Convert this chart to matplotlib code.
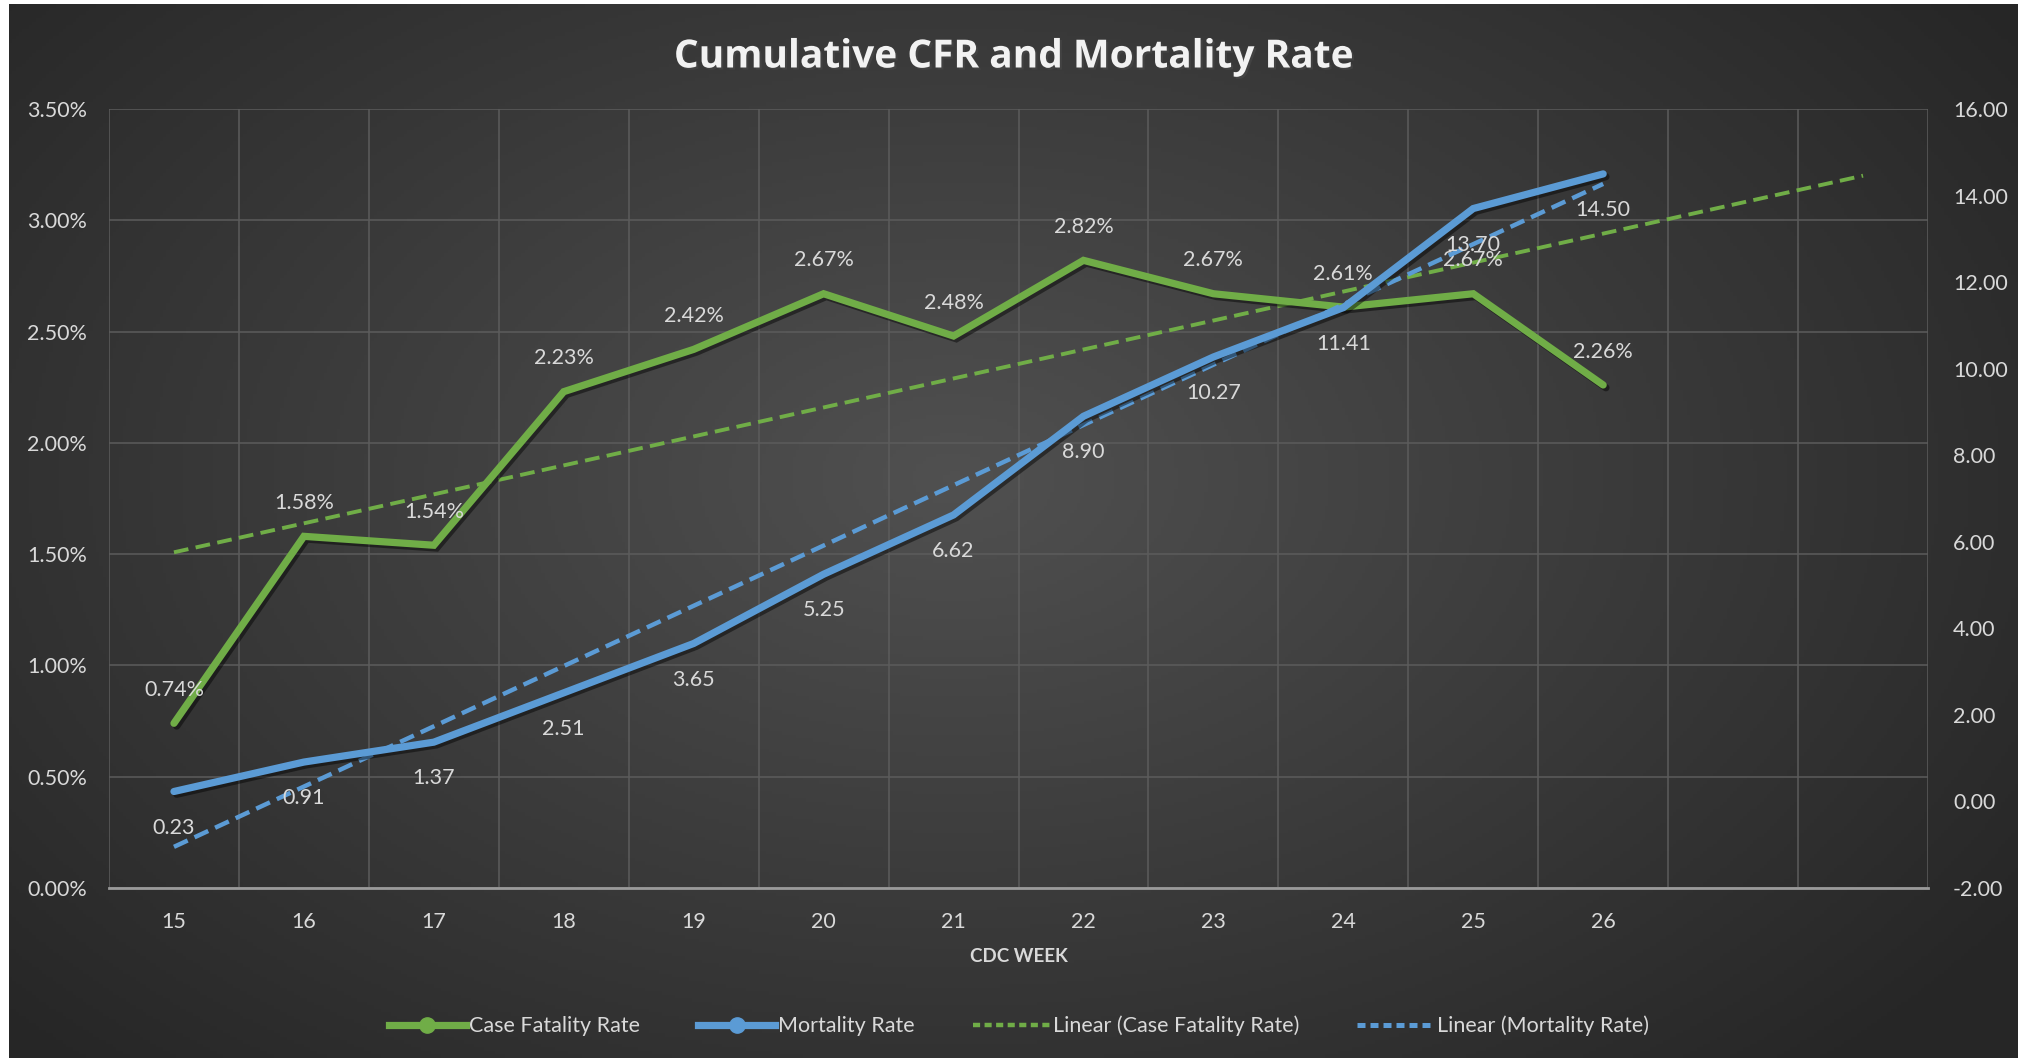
import numpy as np
import matplotlib
matplotlib.use('Agg')
import matplotlib.pyplot as plt
import matplotlib.patheffects as pe
from matplotlib.ticker import FuncFormatter, MultipleLocator
from matplotlib.lines import Line2D

plt.rcParams['font.family'] = ['Lato', 'DejaVu Sans']

weeks = [15, 16, 17, 18, 19, 20, 21, 22, 23, 24, 25, 26]
cfr = [0.74, 1.58, 1.54, 2.23, 2.42, 2.67, 2.48, 2.82, 2.67, 2.61, 2.67, 2.26]   # percent
mortality = [0.23, 0.91, 1.37, 2.51, 3.65, 5.25, 6.62, 8.90, 10.27, 11.41, 13.70, 14.50]
forecast_periods = 2   # green trendline goes 2 weeks forward

green = '#70AD47'
blue = '#5B9BD5'
txt = '#d9d9d9'

W, H = 2018, 1061
fig = plt.figure(figsize=(W / 100, H / 100), dpi=100, facecolor='white')

# dark radial gradient background (thin white frame left/top/bottom)
bg = fig.add_axes([9 / W, 3 / H, 1 - 9 / W, 1 - 7 / H], zorder=-10)
yy, xx = np.mgrid[0:1:300j, 0:1:600j]
r = np.sqrt(((xx - 0.47) / 0.62) ** 2 + ((yy - 0.45) / 0.75) ** 2)
shade = np.clip(0.315 - 0.16 * r, 0.15, 0.315)
bg.imshow(np.dstack([shade] * 3), aspect='auto', extent=[0, 1, 0, 1], origin='upper')
bg.axis('off')

ax = fig.add_axes([109 / W, 1 - 888 / H, (1928 - 109) / W, (888 - 109) / H])
ax.set_facecolor('none')
ax2 = ax.twinx()

x = np.arange(len(weeks))
shadow = [pe.SimpleLineShadow(offset=(2, -2), alpha=0.45, shadow_color='black'), pe.Normal()]

ax.plot(x, cfr, color=green, lw=5.2, solid_capstyle='round',
        solid_joinstyle='miter', zorder=4, path_effects=shadow)
ax2.plot(x, mortality, color=blue, lw=5.2, solid_capstyle='round',
         solid_joinstyle='miter', zorder=4, path_effects=shadow)

# linear trendlines (least squares, like Excel)
k1, b1 = np.polyfit(x, cfr, 1)
xt1 = np.arange(len(weeks) + forecast_periods)
ax.plot(xt1, k1 * xt1 + b1, color=green, lw=2.8, ls=(0, (3.8, 1.9)), zorder=3)
k2, b2 = np.polyfit(x, mortality, 1)
ax2.plot(x, k2 * x + b2, color=blue, lw=3.2, ls=(0, (3.4, 1.7)), zorder=3)

for xi, v in zip(x, cfr):
    ax.annotate(f'{v:.2f}%', (xi, v), xytext=(0, 24), textcoords='offset points',
                ha='center', va='center', color=txt, fontsize=15.5, zorder=6)
for xi, v in zip(x, mortality):
    ax2.annotate(f'{v:.2f}', (xi, v), xytext=(0, -26), textcoords='offset points',
                 ha='center', va='center', color=txt, fontsize=15.5, zorder=6)

ax.set_xlim(-0.5, len(weeks) + forecast_periods - 0.5)
ax.set_ylim(0, 3.5)
ax2.set_ylim(-2, 16)
ax.yaxis.set_major_locator(MultipleLocator(0.5))
ax2.yaxis.set_major_locator(MultipleLocator(2))
ax.yaxis.set_major_formatter(FuncFormatter(lambda v, p: f'{v:.2f}%'))
ax2.yaxis.set_major_formatter(FuncFormatter(lambda v, p: f'{v:.2f}'))
ax.set_xticks(x)
ax.set_xticklabels([str(w) for w in weeks])
ax.set_xticks(np.arange(-0.5, len(weeks) + forecast_periods), minor=True)

ax.grid(True, which='major', axis='y', color='#5c5c5c', lw=1.1)
ax.grid(True, which='minor', axis='x', color='#5c5c5c', lw=1.1)
ax.set_axisbelow(True)

for a in (ax, ax2):
    for s in a.spines.values():
        s.set_visible(False)
    a.tick_params(length=0, labelsize=15.5, labelcolor=txt)
ax.spines['bottom'].set_visible(True)
ax.spines['bottom'].set_color('#9a9a9a')
ax.spines['bottom'].set_linewidth(2)
ax.tick_params(axis='y', pad=16)
ax.tick_params(axis='x', pad=17)
ax2.tick_params(axis='y', pad=18)
ax.tick_params(which='minor', length=0)

ax.set_xlabel('CDC WEEK', color=txt, fontsize=13.5, fontweight='bold', labelpad=12)

fig.text(0.502, 1 - 57 / H, 'Cumulative CFR and Mortality Rate', ha='center', va='center',
         fontsize=28, fontweight='bold', color='#f2f2f2', family=['Open Sans', 'DejaVu Sans'],
         path_effects=[pe.SimplePatchShadow(offset=(1.5, -1.5), alpha=0.6), pe.Normal()])

handles = [
    Line2D([], [], color=green, lw=5.2, marker='o', ms=11),
    Line2D([], [], color=blue, lw=5.2, marker='o', ms=11),
    Line2D([], [], color=green, lw=3.2, ls=(0, (1.6, 1.0))),
    Line2D([], [], color=blue, lw=3.6, ls=(0, (1.6, 1.0))),
]
labels = ['Case Fatality Rate', 'Mortality Rate', 'Linear (Case Fatality Rate)', 'Linear (Mortality Rate)']
leg = fig.legend(handles, labels, loc='center', bbox_to_anchor=(0.505, 1 - 1026 / H), ncol=4,
                 frameon=False, fontsize=15.5, handlelength=3.6, handletextpad=0.12,
                 columnspacing=2.7, labelcolor=txt)

fig.savefig('out.png', dpi=100, facecolor=fig.get_facecolor())
